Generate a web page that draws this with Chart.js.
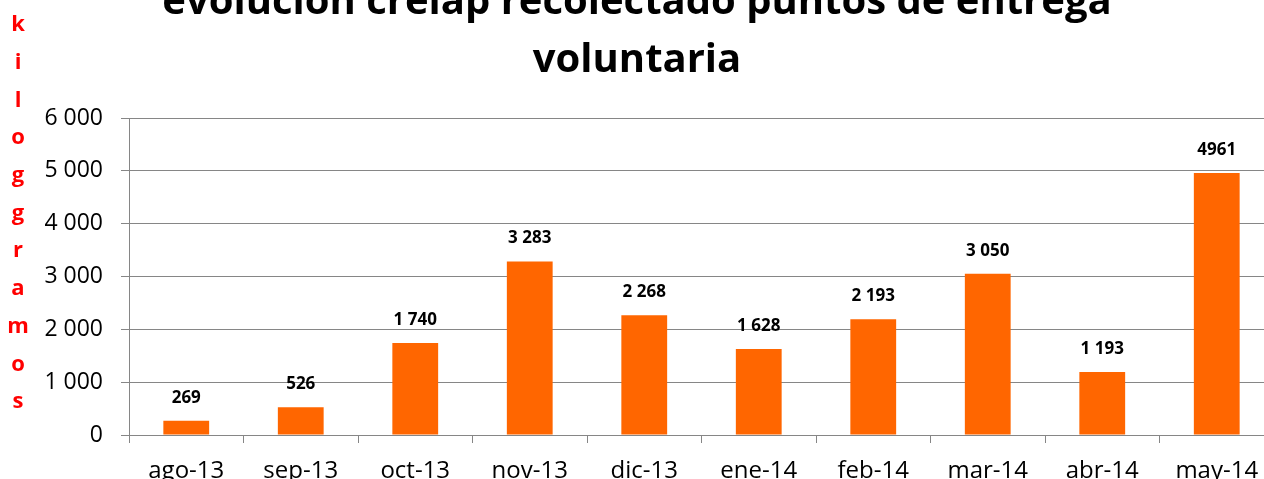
<!DOCTYPE html>
<html>
<head>
<meta charset="utf-8">
<script src="https://cdn.jsdelivr.net/npm/chart.js@4"></script>
<style>
  html, body { margin: 0; padding: 0; background: #fff; overflow: hidden; }
  /* chart is a bit taller/wider than the window: title top and right edge are cut off in the source */
  #wrap { position: absolute; left: 0; top: -40px; width: 1274px; height: 530px; }
</style>
</head>
<body>
<div id="wrap"><canvas id="chart" width="1274" height="530"></canvas></div>
<script>
const months = ['ago-13', 'sep-13', 'oct-13', 'nov-13', 'dic-13', 'ene-14', 'feb-14', 'mar-14', 'abr-14', 'may-14'];
const kilos = [269, 526, 1740, 3283, 2268, 1628, 2193, 3050, 1193, 4961];
const valueLabels = ['269', '526', '1 740', '3 283', '2 268', '1 628', '2 193', '3 050', '1 193', '4961'];
const titleLines = ['evolución crelap recolectado puntos de entrega', 'voluntaria'];
const axisLetters = ['k', 'i', 'l', 'o', 'g', 'g', 'r', 'a', 'm', 'o', 's'];
const yMax = 6000;
const yStep = 1000;

const FONT = "'Open Sans', 'Liberation Sans', sans-serif";
const GRID = '#868686';

// "6 000" style thousands separator
function fmt(v) {
    return String(v).replace(/\B(?=(\d{3})+(?!\d))/g, ' ');
}

// value labels above each bar
const barLabels = {
    id: 'barLabels',
    afterDatasetsDraw(chart) {
        const ctx = chart.ctx;
        const meta = chart.getDatasetMeta(0);
        ctx.save();
        ctx.font = 'bold 17px ' + FONT;
        ctx.fillStyle = '#000';
        ctx.textAlign = 'center';
        ctx.textBaseline = 'middle';
        meta.data.forEach((bar, i) => {
            ctx.fillText(valueLabels[i], bar.x, bar.y - 23);
        });
        ctx.restore();
    }
};

// red stacked letters on the left
const sideLetters = {
    id: 'sideLetters',
    afterDraw(chart) {
        const ctx = chart.ctx;
        ctx.save();
        ctx.font = 'bold 22px ' + FONT;
        ctx.fillStyle = '#ff0000';
        ctx.textAlign = 'center';
        ctx.textBaseline = 'middle';
        axisLetters.forEach((ch, i) => {
            ctx.fillText(ch, 18, 65 + i * 37.7);
        });
        ctx.restore();
    }
};

new Chart(document.getElementById('chart'), {
    type: 'bar',
    data: {
        labels: months,
        datasets: [{
            data: kilos,
            backgroundColor: '#ff6600',
            borderWidth: 0,
            barPercentage: 0.4,
            categoryPercentage: 1
        }]
    },
    options: {
        responsive: false,
        animation: false,
        devicePixelRatio: 1,
        layout: { padding: 0 },
        plugins: {
            legend: { display: false },
            tooltip: { enabled: false },
            title: {
                display: true,
                text: titleLines,
                color: '#000',
                font: { family: FONT, size: 40, weight: 'bold', lineHeight: 1.45 },
                padding: { top: 14, bottom: 28 }
            }
        },
        scales: {
            x: {
                afterFit: s => { s.height = 55; },
                grid: { drawOnChartArea: false, tickLength: 8, color: GRID, offset: true },
                border: { color: GRID },
                ticks: { color: '#000', padding: 14, font: { family: FONT, size: 24 } }
            },
            y: {
                min: 0,
                max: yMax,
                afterFit: s => { s.width = 129; },
                grid: { color: GRID, tickLength: 8 },
                border: { color: GRID },
                ticks: {
                    stepSize: yStep,
                    color: '#000',
                    padding: 18,
                    font: { family: FONT, size: 23 },
                    callback: v => fmt(v)
                }
            }
        }
    },
    plugins: [barLabels, sideLetters]
});
</script>
</body>
</html>
